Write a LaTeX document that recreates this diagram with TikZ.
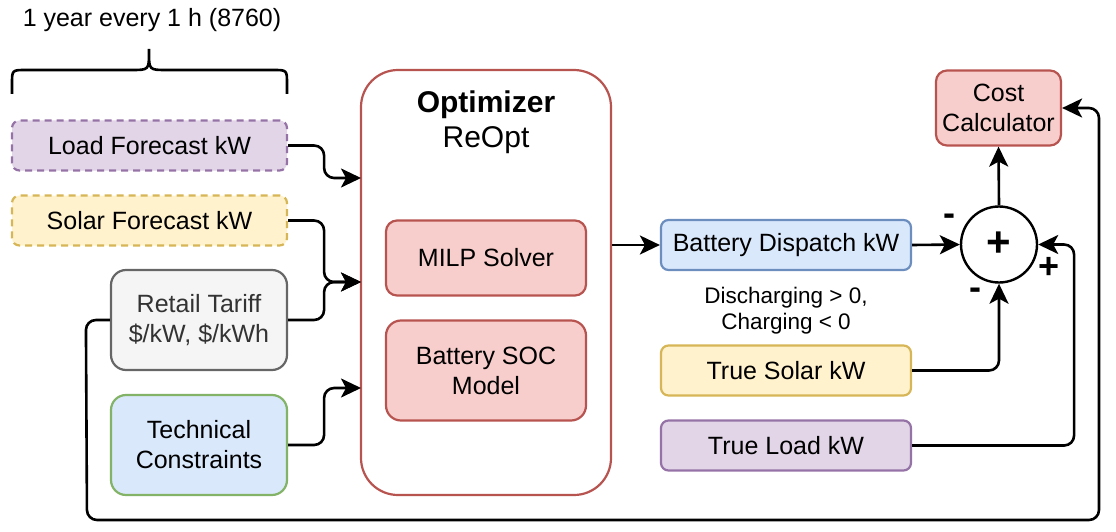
\documentclass[tikz,border=0pt]{standalone}
\usepackage{fontspec}
\setmainfont{Liberation Sans}
\usetikzlibrary{arrows.meta,positioning,calc}
\definecolor{purF}{HTML}{E1D5E7}
\definecolor{purD}{HTML}{9673A6}
\definecolor{yelF}{HTML}{FFF2CC}
\definecolor{yelD}{HTML}{D6B656}
\definecolor{gryF}{HTML}{F5F5F5}
\definecolor{gryD}{HTML}{666666}
\definecolor{gryT}{HTML}{333333}
\definecolor{bluF}{HTML}{DAE8FC}
\definecolor{bluD}{HTML}{6C8EBF}
\definecolor{grnD}{HTML}{82B366}
\definecolor{redF}{HTML}{F8CECC}
\definecolor{redD}{HTML}{B85450}

\begin{document}
\begin{tikzpicture}[x=1pt,y=-1pt,
  blk/.style={draw,rounded corners=7.5pt,line width=2.2pt,inner sep=0pt,align=center,
    font=\fontsize{25}{30}\selectfont},
  wide/.style={blk,minimum width=275,minimum height=50},
  tall/.style={blk,rounded corners=15pt,minimum width=176,minimum height=100},
  wire/.style={line width=2.6pt,rounded corners=10pt,-{Stealth[length=20pt,width=19pt,inset=5pt]}},
  sign/.style={font=\bfseries\fontsize{36}{36}\selectfont,inner sep=0pt}]
  \useasboundingbox (0,0) rectangle (1116,532);
  \node[font=\fontsize{25}{30}\selectfont] (yr) at (152,20) {1 year every 1 h (8760)};
  \draw[line width=2.6pt] (12,94) -- (12,84) .. controls (12,70) and (12,70) .. (26,70) -- (131,70)
    .. controls (149,70) and (149,70) .. (149,52) -- (149,49)
    (149,52) .. controls (149,70) and (149,70) .. (167,70) -- (273,70)
    .. controls (287,70) and (287,70) .. (287,84) -- (287,94);
  \node[wide,fill=purF,draw=purD,dash pattern=on 7pt off 5pt] (LF) at (149.5,145.5) {Load Forecast kW};
  \node[wide,fill=yelF,draw=yelD,dash pattern=on 7pt off 5pt] (SF) at (149.5,220.5) {Solar Forecast kW};
  \node[tall,fill=gryF,draw=gryD,text=gryT] (RT) at (199,320) {Retail Tariff\\\$/kW, \$/kWh};
  \node[tall,fill=bluF,draw=grnD] (TC) at (199,445) {Technical\\Constraints};
  \node[blk,draw=redD,fill=white,rounded corners=37pt,minimum width=250,minimum height=425] (opt) at (486,282.5) {};
  \node[align=center,font=\fontsize{30}{35}\selectfont] (ttl) at (486,122) {\textbf{Optimizer}\\ReOpt};
  \node[blk,fill=redF,draw=redD,rounded corners=11pt,minimum width=200,minimum height=75] (MS) at (486,258) {MILP Solver};
  \node[blk,fill=redF,draw=redD,rounded corners=15pt,minimum width=200,minimum height=100] (SOC) at (486,370.5) {Battery SOC\\Model};
  \node[blk,fill=bluF,draw=bluD,minimum width=250,minimum height=50] (BD) at (786,245) {Battery Dispatch kW};
  \node[align=center,font=\fontsize{22.5}{26}\selectfont] (note) at (786,311) {Discharging > 0,\\Charging < 0};
  \node[blk,fill=yelF,draw=yelD,minimum width=250,minimum height=50] (TS) at (786,370.5) {True Solar kW};
  \node[blk,fill=purF,draw=purD,minimum width=250,minimum height=50] (TL) at (786,445.5) {True Load kW};
  \node[circle,draw,line width=2.4pt,minimum size=76,inner sep=0pt,font=\bfseries\fontsize{42}{42}\selectfont] (sum) at (999,244.5) {+};
  \node[blk,fill=redF,draw=redD,rounded corners=11pt,minimum width=125,minimum height=75] (CC) at (998.5,108) {Cost\\Calculator};
  \coordinate (o1) at (361,178);
  \coordinate (o2) at (361,282);
  \coordinate (o3) at (361,388);
  \draw[wire] (LF.east) -- ++(36,0) |- (o1);
  \draw[wire] (SF.east) -- ++(36,0) |- (o2);
  \draw[wire] (RT.east) -- ++(36,0) |- (o2);
  \draw[wire] (TC.east) -- ++(36,0) |- (o3);
  \draw[wire] (RT.west) -- ++(-24,0) -- (87,520) -- (1099,520) |- (CC.east);
  \draw[wire] (opt.east |- BD.west) -- (BD.west);
  \draw[wire] (BD.east) -- (sum.west);
  \draw[wire] (TS.east) -| (sum.south);
  \draw[wire] (TL.east) -- ++(162,0) |- (sum.east);
  \draw[wire] (sum.north) -- (CC.south);
  \node[sign] (m1) at (949,220) {-};
  \node[sign] (p1) at (1049,268) {+};
  \node[sign] (m2) at (975,294) {-};
\end{tikzpicture}
\end{document}
